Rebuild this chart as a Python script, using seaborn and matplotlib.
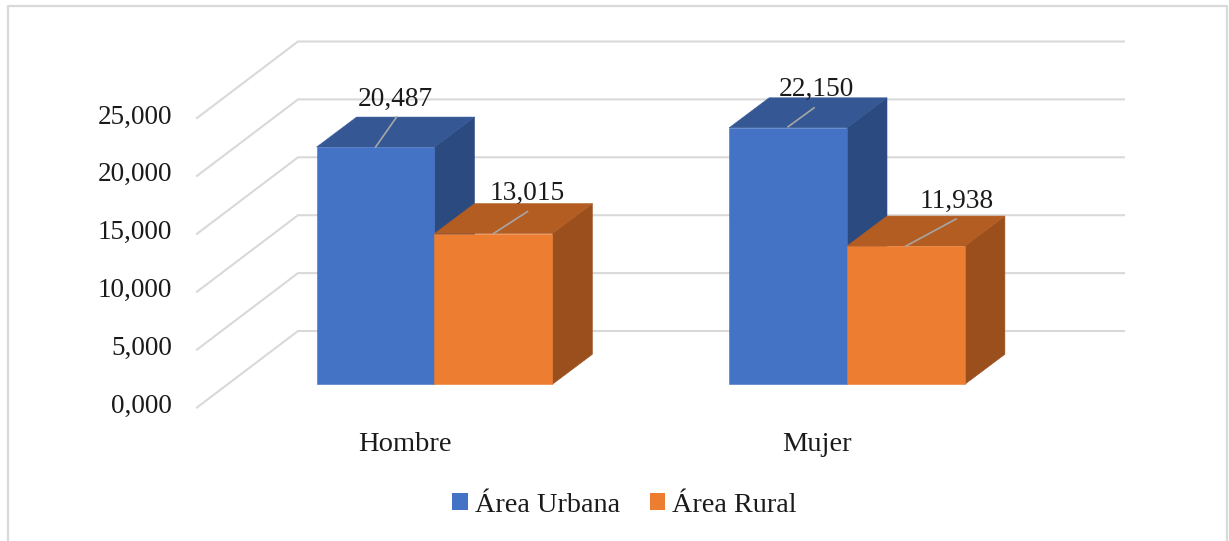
import pandas as pd
import matplotlib
matplotlib.use("Agg")
import matplotlib.pyplot as plt
from matplotlib.patches import Patch, Polygon
import seaborn as sns

categories = ["Hombre", "Mujer"]
series_names = ["Área Urbana", "Área Rural"]
urbana = [20487, 22150]
rural = [13015, 11938]
tick_values = [0, 5000, 10000, 15000, 20000, 25000]
tick_labels = ["0,000", "5,000", "10,000", "15,000", "20,000", "25,000"]

FRONT = {"Área Urbana": "#4472C4", "Área Rural": "#ED7D31"}
TOP = {"Área Urbana": "#355895", "Área Rural": "#B35D22"}
SIDE = {"Área Urbana": "#2B4A80", "Área Rural": "#9A4F1D"}
GRID = "#D9D9D9"
LEADER = "#A6A6A6"

# pixel layout of the fake 3d box
W, H = 1229, 541
X0, X_STEP = 434.5, 412.5   # pixel x of category 0, pixels per category
Y0, Y_SCALE = 384.3, 0.01158  # pixel y of value 0 on the bar front, pixels per unit


def xd(px):
    return (px - X0) / X_STEP


def yd(py):
    return (Y0 - py) / Y_SCALE


df = pd.DataFrame({
    "sexo": categories * 2,
    "area": [series_names[0]] * 2 + [series_names[1]] * 2,
    "valor": urbana + rural,
})

plt.rcParams["font.family"] = ["Liberation Serif", "DejaVu Serif"]
fig = plt.figure(figsize=(W / 100, H / 100), dpi=100)
ax = fig.add_axes([0, 0, 1, 1])
sns.barplot(data=df, x="sexo", y="valor", hue="area", hue_order=series_names,
            order=categories, palette=FRONT, width=0.5715, gap=0, saturation=1,
            legend=False, ax=ax)
ax.set_xlim(xd(0), xd(W))
ax.set_ylim(yd(H), yd(0))
ax.axis("off")

# chart frame, open at the bottom
ax.plot([xd(8), xd(8), xd(1227), xd(1227)], [yd(H), yd(6), yd(6), yd(H)],
        color=GRID, lw=1.6, zorder=1, clip_on=False)

# back wall and left wall grid lines
wall_dx, wall_dy = 101 / X_STEP, 76.5 / Y_SCALE
back_shift = (384.3 - 331) / Y_SCALE
for v, lab in zip(tick_values, tick_labels):
    yb = v + back_shift
    ax.plot([xd(298) - wall_dx, xd(298), xd(1124)], [yb - wall_dy, yb, yb],
            color=GRID, lw=1.5, zorder=1, solid_joinstyle="miter")
    ax.text(xd(172), yb - wall_dy + 1 / Y_SCALE, lab, ha="right", va="center", fontsize=19.5,
            color="#1A1A1A", zorder=6)

# bar depth
dx, dy = 40 / X_STEP, 30 / Y_SCALE
z = 2
for name, container in zip(series_names, ax.containers):
    for bar in container:
        x1 = bar.get_x()
        x2 = x1 + bar.get_width()
        h = bar.get_height()
        ax.add_patch(Polygon([(x2, 0), (x2 + dx, dy), (x2 + dx, h + dy), (x2, h)],
                             facecolor=SIDE[name], edgecolor=SIDE[name], lw=0.4, zorder=z))
        ax.add_patch(Polygon([(x1, h), (x1 + dx, h + dy), (x2 + dx, h + dy), (x2, h)],
                             facecolor=TOP[name], edgecolor=TOP[name], lw=0.4, zorder=z))
        bar.set_zorder(z + 0.5)
        bar.set_edgecolor(FRONT[name])
        bar.set_linewidth(0.4)
    z += 1

# data labels with their leader lines, offsets in pixels from the bar front top centre
label_offset = {
    20487: (0, 21, -30, 20, -48),
    13015: (0, 34, -22, 34, -40),
    22150: (-1, 26, -20, 28, -38),
    11938: (0, 50, -27, 51, -45),
}
for container in ax.containers:
    for bar in container:
        v = int(round(bar.get_height()))
        xc = bar.get_x() + bar.get_width() / 2
        b, c, d, tx, ty = label_offset[v]
        ax.plot([xc, xc + c / X_STEP], [v - b / Y_SCALE, v - d / Y_SCALE],
                color=LEADER, lw=1.2, zorder=5)
        ax.text(xc + tx / X_STEP, v - ty / Y_SCALE, f"{v:,}", ha="center", va="center",
                fontsize=19.7, color="#1A1A1A", zorder=6)

# category labels
for i, cat in enumerate(categories):
    ax.text(i - 30 / X_STEP, yd(444.5), cat, ha="center", va="center", fontsize=20.5,
            color="#1A1A1A")

handles = [Patch(facecolor=FRONT[n], edgecolor="none") for n in series_names]
fig.legend(handles, series_names, loc="center", bbox_to_anchor=(624.5 / W, 1 - 505 / H),
           ncol=2, frameon=False, fontsize=20.3, handlelength=0.55, handleheight=0.55,
           handletextpad=0.25, columnspacing=1.06, labelcolor="#1A1A1A")

fig.savefig("out.png", dpi=100)
plt.close(fig)
